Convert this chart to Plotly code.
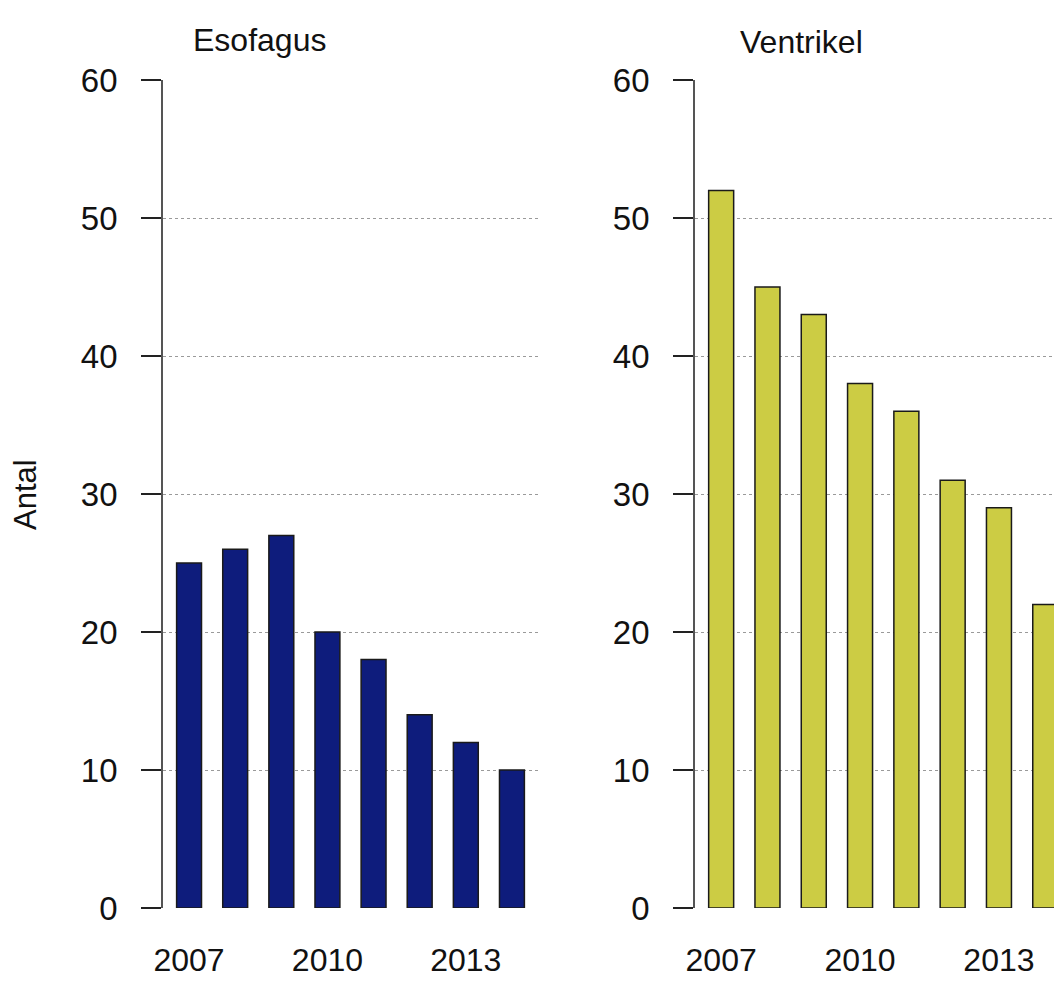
import plotly.graph_objects as go

years = [2007, 2008, 2009, 2010, 2011, 2012, 2013, 2014]
esofagus = [25, 26, 27, 20, 18, 14, 12, 10]
ventrikel = [52, 45, 43, 38, 36, 31, 29, 22]
titles = ["Esofagus", "Ventrikel"]
ylabel = "Antal"
xticks = [2007, 2010, 2013]
yticks = [0, 10, 20, 30, 40, 50, 60]

# page body has an 8px margin; work in reference pixels and subtract it
OFF = 8
W, H = 1062 - OFF, 988 - OFF
FONT = "Liberation Sans, Arial, Helvetica, sans-serif"
navy = "#0E1C7C"
yellow = "#CCCC44"

fig = go.Figure()
fig.add_trace(go.Bar(x=years, y=esofagus, width=0.54, marker=dict(color=navy, line=dict(color="#1a1a1a", width=1.5)),
                     xaxis="x", yaxis="y", showlegend=False))
fig.add_trace(go.Bar(x=years, y=ventrikel, width=0.54, marker=dict(color=yellow, line=dict(color="#1a1a1a", width=1.5)),
                     xaxis="x2", yaxis="y2", showlegend=False))

def px_x(p):
    return (p - OFF) / W

def px_y(p):
    return 1 - (p - OFF) / H

y_dom = [px_y(908), px_y(80)]
spacing = 46.3

xcommon = dict(tickmode="array", tickvals=xticks, ticktext=[str(v) for v in xticks], ticks="",
               showgrid=False, zeroline=False, showline=False, automargin=False,
               tickfont=dict(family=FONT, size=32, color="#111111"), ticklabelstandoff=30)
ycommon = dict(range=[0, 60], tickmode="array", tickvals=yticks, ticks="outside", ticklen=20,
               tickcolor="#222222", tickwidth=1.5, showline=True, linecolor="#555555", linewidth=1.8,
               showgrid=True, gridcolor="#9a9a9a", griddash="dot", gridwidth=1, zeroline=False, automargin=False,
               tickfont=dict(family=FONT, size=33, color="#111111"), ticklabelstandoff=17, domain=y_dom)

left_lo = 2006.435
fig.update_layout(
    width=W, height=H, margin=dict(l=0, r=0, t=0, b=0, autoexpand=False),
    paper_bgcolor="white", plot_bgcolor="white",
    xaxis=dict(domain=[px_x(163), px_x(538)], range=[left_lo, 2014.565], anchor="y", **xcommon),
    yaxis=dict(anchor="x", **ycommon),
    xaxis2=dict(domain=[px_x(695), 1.0], range=[left_lo, left_lo + (1062 - 695) / spacing], anchor="y2", **xcommon),
    yaxis2=dict(anchor="x2", **ycommon),
    annotations=[
        dict(text=titles[0], x=px_x(259), y=px_y(40), xref="paper", yref="paper", showarrow=False,
             xanchor="center", yanchor="middle", font=dict(family=FONT, size=32, color="#111111")),
        dict(text=titles[1], x=px_x(801), y=px_y(42), xref="paper", yref="paper", showarrow=False,
             xanchor="center", yanchor="middle", font=dict(family=FONT, size=32, color="#111111")),
        dict(text=ylabel, x=px_x(25), y=px_y(495), xref="paper", yref="paper", showarrow=False,
             textangle=-90, xanchor="center", yanchor="middle", font=dict(family=FONT, size=31, color="#111111")),
    ],
)

fig.write_html("out.html")
